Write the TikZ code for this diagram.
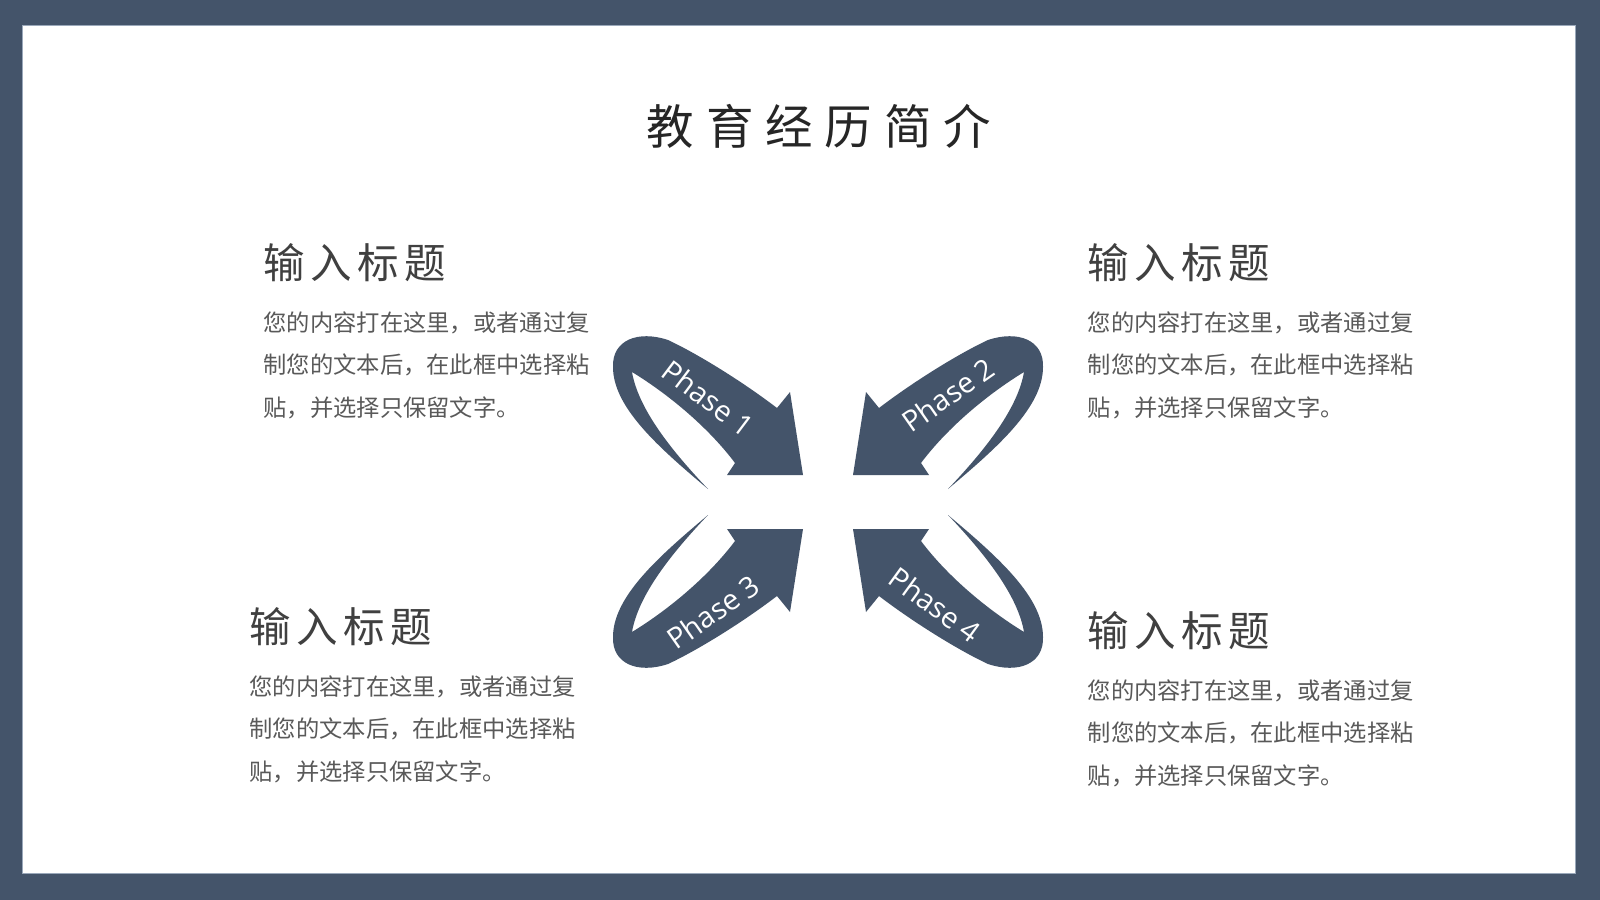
\documentclass[tikz,border=0pt]{standalone}
\usepackage{fontspec}
\setmainfont{Open Sans}
\newfontfamily\cjk{Noto Sans CJK SC}
\newfontfamily\cjktitle[LetterSpace=25]{Noto Sans CJK SC}
\newfontfamily\cjkhead[LetterSpace=13]{Noto Sans CJK SC}

\definecolor{slate}{HTML}{44546A}
\definecolor{slatelight}{HTML}{9AA8BA}
\definecolor{titlegray}{HTML}{262626}
\definecolor{headgray}{HTML}{404040}
\definecolor{bodygray}{HTML}{595959}

% one curved arrow, drawn for the upper left corner around the centre
\newcommand{\phasearrow}{
  (-120,-13) .. controls (-170,-55) and (-215,-95) .. (-215,-135)
  .. controls (-216,-162) and (-190,-172) .. (-160,-162)
  .. controls (-130,-148) and (-85,-120) .. (-51,-94)
  -- (-38,-110) -- (-25,-27) -- (-101,-27) -- (-93,-39)
  .. controls (-120,-75) and (-160,-108) .. (-196,-130)
  .. controls (-190,-95) and (-160,-55) .. (-120,-13) -- cycle}

\tikzset{
  title/.style={text=titlegray, inner sep=0, font=\cjktitle\fontsize{13.5pt}{16pt}\selectfont},
  heading/.style={text=headgray, inner sep=0, anchor=west, font=\cjkhead\fontsize{11.8pt}{14pt}\selectfont},
  body/.style={text=bodygray, inner sep=0, anchor=north west, align=left, font=\cjk\fontsize{6.62pt}{12.1pt}\selectfont},
  phase/.style={text=white, inner sep=0, font=\fontsize{8.2pt}{9.8pt}\selectfont}
}

\begin{document}
\begin{tikzpicture}[x=0.01cm, y=-0.01cm]
    \fill[slate] (0,0) rectangle (1600,900);
    \fill[white] (23,26) rectangle (1575,873);
    \draw[slatelight, line width=0.3pt] (22.5,25.5) rectangle (1575.5,873.5);

    \node[title] (title) at (819,126) {教育经历简介};

    % the four arrows
    \begin{scope}[shift={(828,502)}]
        \fill[slate] \phasearrow;
    \end{scope}
    \begin{scope}[shift={(828,502)}, xscale=-1]
        \fill[slate] \phasearrow;
    \end{scope}
    \begin{scope}[shift={(828,502)}, yscale=-1]
        \fill[slate] \phasearrow;
    \end{scope}
    \begin{scope}[shift={(828,502)}, xscale=-1, yscale=-1]
        \fill[slate] \phasearrow;
    \end{scope}

    \node[phase, rotate=-37] (phase1) at (708,398) {Phase 1};
    \node[phase, rotate=35] (phase2) at (948,395) {Phase 2};
    \node[phase, rotate=35] (phase3) at (713,612) {Phase 3};
    \node[phase, rotate=-36] (phase4) at (935,605) {Phase 4};

    % text blocks
    \node[heading] (head1) at (263,263) {输入标题};
    \node[body] (body1) at (263,311) {您的内容打在这里，或者通过复\\制您的文本后，在此框中选择粘\\贴，并选择只保留文字。};

    \node[heading] (head2) at (1087,263) {输入标题};
    \node[body] (body2) at (1087,311) {您的内容打在这里，或者通过复\\制您的文本后，在此框中选择粘\\贴，并选择只保留文字。};

    \node[heading] (head3) at (249,627) {输入标题};
    \node[body] (body3) at (249,675) {您的内容打在这里，或者通过复\\制您的文本后，在此框中选择粘\\贴，并选择只保留文字。};

    \node[heading] (head4) at (1087,631) {输入标题};
    \node[body] (body4) at (1087,679) {您的内容打在这里，或者通过复\\制您的文本后，在此框中选择粘\\贴，并选择只保留文字。};
\end{tikzpicture}
\end{document}
